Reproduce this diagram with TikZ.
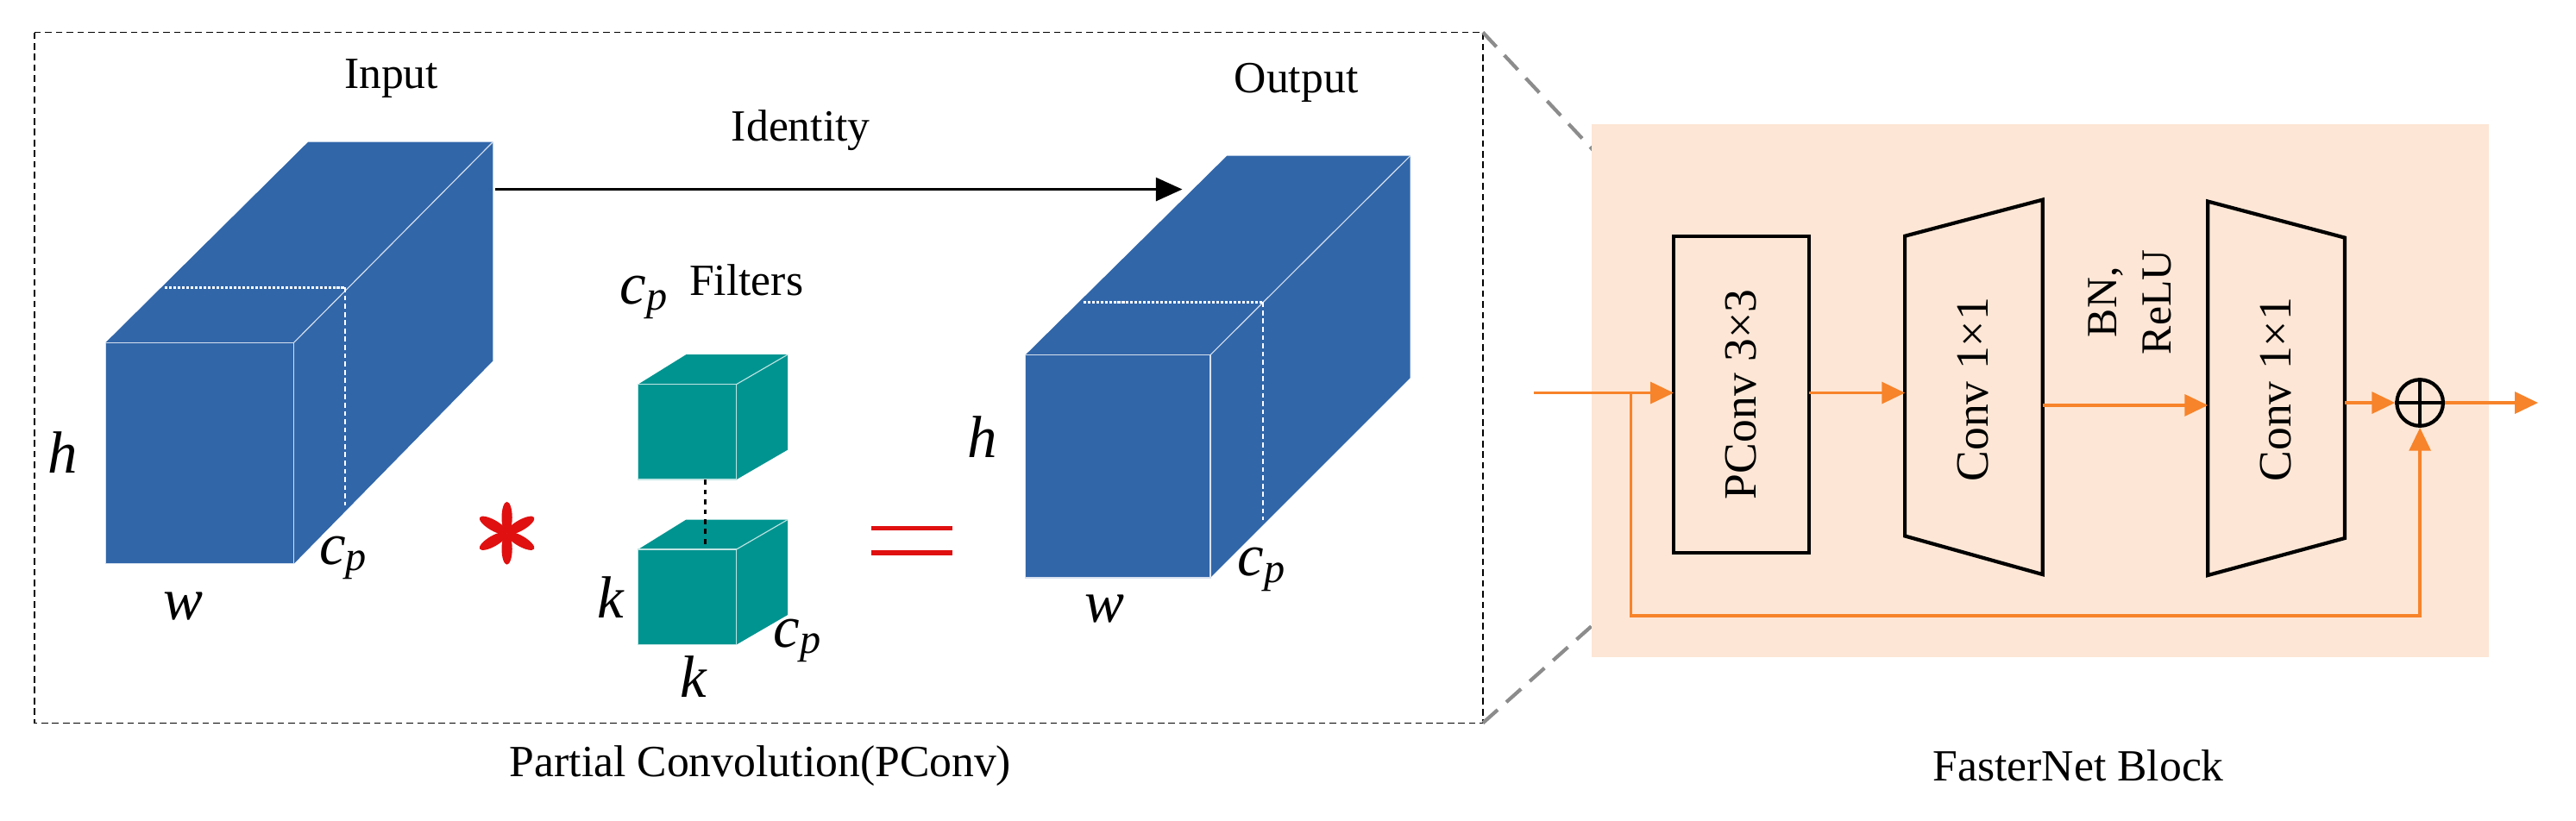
\documentclass[tikz,border=0pt]{standalone}
\usepackage{fontspec}
\setmainfont{Liberation Serif}[ItalicFont={Liberation Serif Italic}]
\usetikzlibrary{arrows.meta}
\definecolor{cblue}{HTML}{3166A9}
\definecolor{cteal}{HTML}{009490}
\definecolor{corange}{HTML}{F7832A}
\definecolor{cpeach}{HTML}{FDE6D5}
\definecolor{cred}{HTML}{E01010}
\newcommand{\cpx}{\textit{c}\textsubscript{\textit{p}}}
\begin{document}
\begin{tikzpicture}[x=1pt,y=-1pt,
  lbl/.style={font=\fontsize{27}{29}\selectfont},
  var/.style={font=\fontsize{36}{38}\selectfont\itshape},
  blk/.style={draw=black,line width=2.2pt},
  conv/.style={rotate=90,font=\fontsize{28}{30}\selectfont},
  oarr/.style={draw=corange,line width=1.8pt,-{Triangle[length=14pt,width=13pt]}},
  oline/.style={draw=corange,line width=1.8pt},
  face/.style={draw=white!80!cblue,line width=0.6pt}]
\useasboundingbox (0,0) rectangle (1560,497);
% dashed box
\draw[black,line width=0.9pt,dash pattern=on 4pt off 2.5pt] (21,19.6) rectangle (898,438);
\draw[gray!90,line width=2.2pt,dash pattern=on 12pt off 7pt] (898,19.6) -- (1013.5,143);
\draw[gray!90,line width=2.2pt,dash pattern=on 12pt off 7pt] (898,438) -- (1013.5,335);
% input cuboid
\fill[cblue] (64,207.5) -- (186.6,86) -- (298.5,86) -- (298.5,218.6) -- (178,341.5) -- (64,341.5) -- cycle;
\draw[face] (64,207.5) rectangle (178,341.5);
\draw[face] (178,207.5) -- (298.5,86);
\draw[white,densely dotted,line width=1.6pt] (100,174) -- (209,174);
\draw[white,densely dashed,line width=1.1pt] (209,174) -- (209,306);
% output cuboid
\fill[cblue] (621,215) -- (743,94.4) -- (854,94.4) -- (854,229) -- (733,350) -- (621,350) -- cycle;
\draw[face] (621,215) rectangle (733,350);
\draw[face] (733,215) -- (854,94.4);
\draw[white,densely dotted,line width=1.6pt] (656,183) -- (765,183);
\draw[white,densely dashed,line width=1.1pt] (765,183) -- (765,315);
% identity arrow
\coordinate (idA) at (300,114.7);
\coordinate (idB) at (716,114.7);
\draw[line width=1.8pt,-{Triangle[length=16pt,width=14pt]}] (idA) -- (idB);
\node[lbl] (tin) at (237,47.5) {Input};
\node[lbl] (tout) at (785,50) {Output};
\node[lbl] (tid) at (485,79) {Identity};
\node[lbl] (tfil) at (452,169.5) {Filters};
\node[var] (cpf) at (390,180) {\cpx};
\node[var] (h1) at (38,274) {h};
\node[var] (w1) at (111,367.5) {w};
\node[var] (c1) at (208,338) {\cpx};
\node[var] (h2) at (595,264.5) {h};
\node[var] (w2) at (669,369) {w};
\node[var] (c2) at (764,345) {\cpx};
\node[var] (k1) at (370,362) {k};
\node[var] (k2) at (420,410) {k};
\node[var] (c3) at (483,388) {\cpx};
% filters
\foreach \yy in {0,100}{
  \fill[cteal] (386.5,232.8+\yy) -- (415.5,214.8+\yy) -- (477,214.8+\yy) -- (477,272.5+\yy) -- (446,290.5+\yy) -- (386.5,290.5+\yy) -- cycle;
  \draw[face,draw=white!75!cteal] (386.5,232.8+\yy) rectangle (446,290.5+\yy);
  \draw[face,draw=white!75!cteal] (446,232.8+\yy) -- (477,214.8+\yy);
}
\coordinate (fa) at (427,290.5);
\coordinate (fb) at (427,331);
\draw[dashed,line width=1.3pt] (fa) -- (fb);
% asterisk and equals
\coordinate (ast) at (307,323);
\foreach \a in {90,30,-30,-90,-150,150}{
  \fill[cred] (ast) ++(\a:9.5) ellipse [x radius={9.5pt},y radius={3.2pt},rotate=-\a];
}
\fill[cred] (527.6,318.5) rectangle (577,321.5);
\fill[cred] (527.6,333.5) rectangle (577,336.5);
\node[lbl] (cap1) at (460.5,464) {Partial Convolution(PConv)};
% FasterNet block
\fill[cpeach] (963.8,75) rectangle (1507,398);
\node[blk,minimum width=81.9pt,minimum height=192pt,inner sep=0pt] (pconv) at (1054.5,239) {};
\node[conv] at (pconv) {PConv 3×3};
\draw[blk] (1153.6,143) -- (1237,121) -- (1237,348) -- (1153.6,324.7) -- cycle;
\node[conv] (conv1) at (1195,236) {Conv 1×1};
\draw[blk] (1337,122) -- (1420,144) -- (1420,326) -- (1337,348.5) -- cycle;
\node[conv] (conv2) at (1378,236) {Conv 1×1};
\node[rotate=90,align=center,font=\fontsize{26}{33}\selectfont] (bn) at (1290,183) {BN,\\ReLU};
\node[circle,draw=black,line width=2.2pt,minimum size=28pt,inner sep=0pt] (plus) at (1465.5,244) {};
\draw[line width=2.2pt] (plus.north) -- (plus.south) (plus.west) -- (plus.east);
\coordinate (in) at (928.7,238);
\coordinate (br) at (987.8,238);
\coordinate (out) at (1537,244);
\draw[oline] (in) -- (br);
\draw[oarr] (br) -- (1013.5,238);
\draw[oarr] (1095.4,238) -- (1153.6,238);
\draw[oarr] (1237,245.5) -- (1337,245.5);
\draw[oarr] (1420,244) -- (plus.west);
\draw[oarr] (plus.east) -- (out);
\draw[oarr] (br) -- (987.8,373) -- (1465.5,373) -- (plus.south);
\node[lbl] (cap2) at (1258.6,464) {FasterNet Block};
\end{tikzpicture}
\end{document}
